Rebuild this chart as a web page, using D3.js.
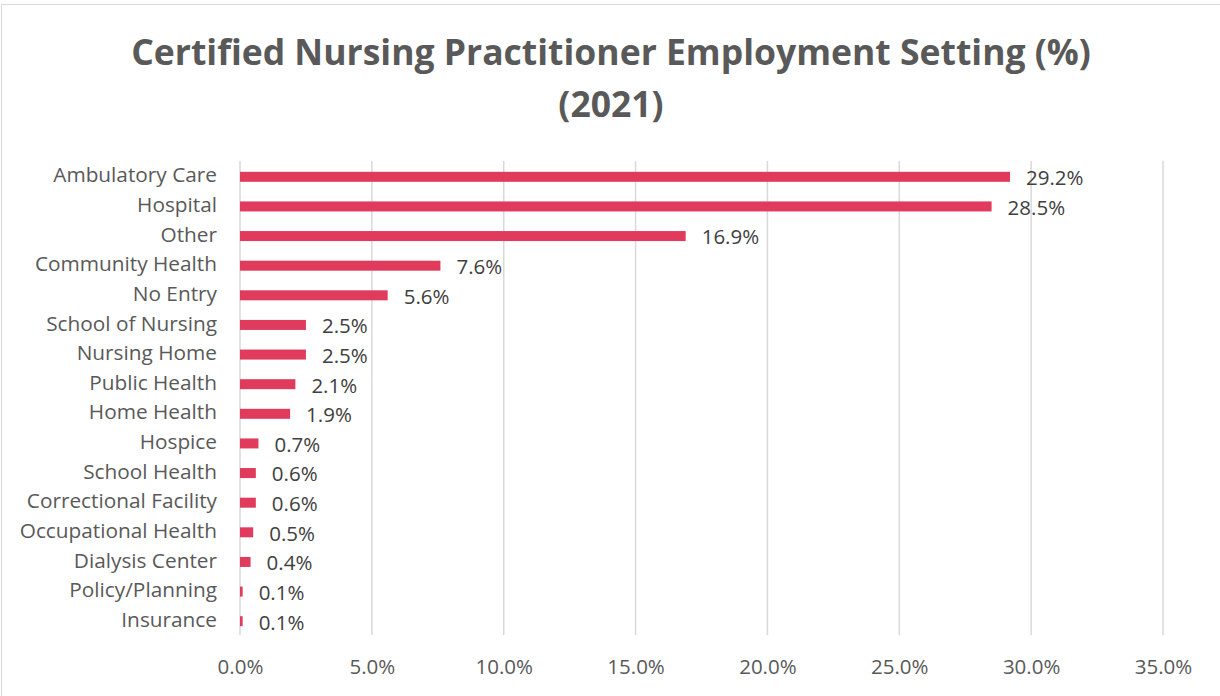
<!DOCTYPE html>
<html>
<head>
<meta charset="utf-8">
<script src="https://cdn.jsdelivr.net/npm/d3@7"></script>
<style>
  body { margin: 0; background: #fff; }
  text { font-family: "Open Sans", sans-serif; }
</style>
</head>
<body>
<svg id="chart"></svg>
<script>
// data
const categories = ["Ambulatory Care", "Hospital", "Other", "Community Health", "No Entry",
  "School of Nursing", "Nursing Home", "Public Health", "Home Health", "Hospice",
  "School Health", "Correctional Facility", "Occupational Health", "Dialysis Center",
  "Policy/Planning", "Insurance"];
const values = [29.2, 28.5, 16.9, 7.6, 5.6, 2.5, 2.5, 2.1, 1.9, 0.7, 0.6, 0.6, 0.5, 0.4, 0.1, 0.1];
const xTicks = [0, 5, 10, 15, 20, 25, 30, 35];
const titleLines = ["Certified Nursing Practitioner Employment Setting (%)", "(2021)"];

const svgWidth = 1220, svgHeight = 696;
const margin = { top: 161, right: 57, bottom: 61, left: 240 };
const width = svgWidth - margin.left - margin.right;
const height = svgHeight - margin.top - margin.bottom;
const font = "'Open Sans', sans-serif";

const svg = d3.select("#chart")
  .attr("width", svgWidth)
  .attr("height", svgHeight);

// chart frame (right and bottom edges fall outside the picture)
svg.append("rect")
  .attr("x", 1.5).attr("y", 4.5)
  .attr("width", svgWidth + 10).attr("height", svgHeight + 10)
  .attr("fill", "none")
  .attr("stroke", "#d9d9d9");

// title
const title = svg.append("text")
  .attr("text-anchor", "middle")
  .attr("fill", "#595959")
  .attr("font-weight", "bold")
  .attr("font-size", 35.5);
title.selectAll("tspan")
  .data(titleLines)
  .join("tspan")
  .attr("x", 611)
  .attr("y", (d, i) => 65 + i * 52)
  .text(d => d);

const g = svg.append("g")
  .attr("transform", "translate(" + margin.left + "," + margin.top + ")");

const x = d3.scaleLinear()
  .domain([0, 35])
  .range([0, width]);

const y = d3.scaleBand()
  .domain(categories)
  .range([0, height]);

// gridlines
g.append("g")
  .selectAll("line")
  .data(xTicks)
  .join("line")
  .attr("x1", d => x(d)).attr("x2", d => x(d))
  .attr("y1", 0).attr("y2", height)
  .attr("stroke", "#d9d9d9")
  .attr("stroke-width", 1.5);

// x axis
const xAxis = g.append("g")
  .attr("transform", "translate(0," + height + ")")
  .call(d3.axisBottom(x).tickValues(xTicks).tickFormat(d => d.toFixed(1) + "%").tickSize(0).tickPadding(24));
xAxis.select(".domain").remove();
xAxis.selectAll("text")
  .attr("fill", "#595959")
  .attr("font-size", 20.5)
  .style("font-family", font);

// y axis
const yAxis = g.append("g")
  .call(d3.axisLeft(y).tickSize(0).tickPadding(23));
yAxis.select(".domain").remove();
yAxis.selectAll("text")
  .attr("fill", "#595959")
  .attr("font-size", 20.8)
  .style("font-family", font);

// bars
const barH = 10;
g.append("g")
  .selectAll("rect")
  .data(values)
  .join("rect")
  .attr("x", x(0))
  .attr("y", (d, i) => y(categories[i]) + y.bandwidth() / 2 - barH / 2 + 1)
  .attr("width", d => Math.max(x(d) - x(0), 1.5))
  .attr("height", barH)
  .attr("fill", "#e03a5c");

// value labels
g.append("g")
  .selectAll("text")
  .data(values)
  .join("text")
  .attr("x", d => x(d) + 16)
  .attr("y", (d, i) => y(categories[i]) + y.bandwidth() / 2 + 2)
  .attr("dy", "0.36em")
  .attr("fill", "#404040")
  .attr("font-size", 20.5)
  .text(d => d.toFixed(1) + "%");
</script>
</body>
</html>
